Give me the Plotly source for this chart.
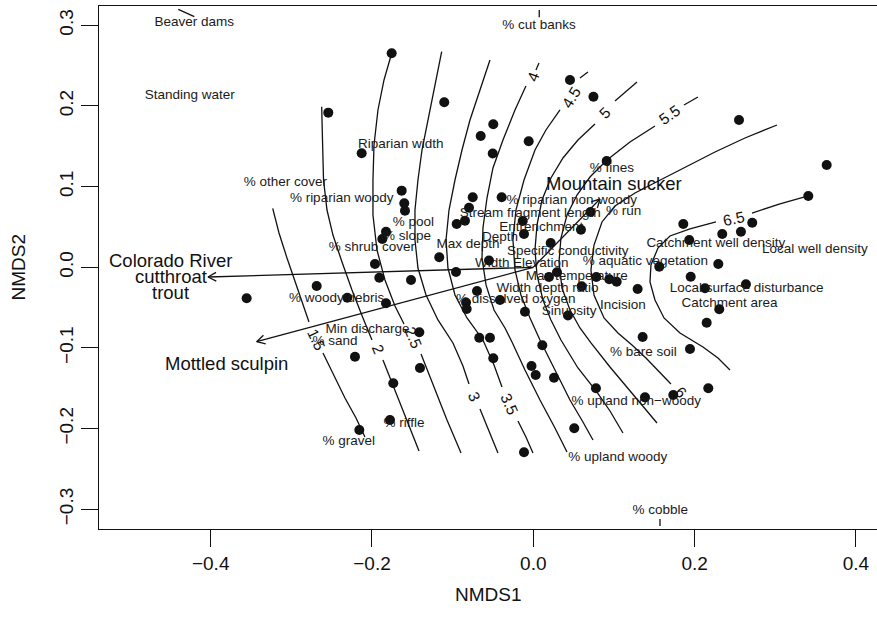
import math
import plotly.graph_objects as go

# ---------------- data ----------------
# Site scores
site_nmds1 = [-0.1756, -0.2542, -0.2128, -0.1104, -0.0496, -0.0652, -0.0503, -0.0057, 0.0455, 0.0746,
              0.0910, 0.2551, 0.3638, 0.3410, 0.2715, 0.2575, 0.2343, 0.1860, 0.1934, 0.2294,
              0.1562, 0.1952, 0.2129, 0.2637, 0.2306, 0.2150, 0.1294, 0.0781, 0.0942, 0.1034,
              0.1356, 0.1943, 0.2170, 0.1736, 0.1385, 0.0777, 0.0508, -0.0115, 0.0257, -0.0022,
              0.0030, 0.0112, -0.0496, -0.0670, -0.0537, -0.1405, -0.1736, -0.1777, -0.2157, -0.2211,
              -0.1413, -0.3554, -0.2686, -0.2306, -0.1963, -0.1909, -0.1516, -0.1826, -0.1826, -0.1872,
              -0.1632, -0.1600, -0.1591, -0.1166, -0.0958, -0.0950, -0.0847, -0.0797, -0.0751, -0.0392,
              -0.0131, -0.0115, 0.0216, 0.0591, 0.0709, -0.0549, 0.0294, 0.0195, 0.0600, -0.0698,
              -0.0413, -0.0834, -0.0826, -0.0103, 0.0430]
site_nmds2 = [0.2653, 0.1917, 0.1413, 0.2045, 0.1773, 0.1628, 0.1411, 0.1562, 0.2322, 0.2115,
              0.1318, 0.1826, 0.1268, 0.0884, 0.0553, 0.0441, 0.0413, 0.0537, 0.0338, 0.0041,
              0.0007, -0.0117, -0.0260, -0.0211, -0.0521, -0.0687, -0.0269, -0.0120, -0.0149, -0.0179,
              -0.0864, -0.1013, -0.1500, -0.1583, -0.1612, -0.1500, -0.1996, -0.2293, -0.1369, -0.1223,
              -0.1335, -0.0967, -0.1128, -0.0873, -0.0873, -0.1248, -0.1438, -0.1893, -0.2017, -0.1108,
              -0.0806, -0.0384, -0.0232, -0.0377, 0.0041, -0.0129, -0.0157, -0.0446, 0.0441, 0.0351,
              0.0950, 0.0793, 0.0702, 0.0124, -0.0058, 0.0537, 0.0578, 0.0739, 0.0868, 0.0868,
              0.0574, 0.0413, 0.0301, 0.0466, 0.0686, 0.0084, -0.0062, -0.0120, -0.0236, -0.0294,
              -0.0405, -0.0436, -0.0517, -0.0550, -0.0597]

# Fitted surface contours (None = gap left for the level label)
contour_levels = ["1.5", "2", "2.5", "3", "3.5", "4", "4.5", "5", "5.5", "6", "6.5"]
c15_x = [-0.3231, -0.3153, -0.3054, -0.2930, -0.2781, None, -0.2608, -0.2471, -0.2335, -0.2198, -0.2087]
c15_y = [0.0731, 0.0425, 0.0115, -0.0244, -0.0678, None, -0.1062, -0.1347, -0.1620, -0.1868, -0.2104]
c20_x = [-0.2624, -0.2614, -0.2601, -0.2558, -0.2484, -0.2372, -0.2248, -0.2112, -0.2000, None,
         -0.1864, -0.1715, -0.1554, -0.1417]
c20_y = [0.1991, 0.1578, 0.1082, 0.0710, 0.0400, 0.0066, -0.0281, -0.0628, -0.0901, None,
         -0.1149, -0.1521, -0.1918, -0.2277]
c25_x = [-0.1756, -0.1851, -0.1926, -0.1975, -0.1988, -0.1988, -0.1938, -0.1839, -0.1715, -0.1603, None,
         -0.1392, -0.1244, -0.1070, -0.0896]
c25_y = [0.2653, 0.2322, 0.1950, 0.1516, 0.1082, 0.0648, 0.0214, -0.0157, -0.0480, -0.0703, None,
         -0.1075, -0.1459, -0.1893, -0.2302]
c30_x = [-0.1136, -0.1219, -0.1306, -0.1380, -0.1430, -0.1467, -0.1467, -0.1430, -0.1330, -0.1182,
         -0.0996, -0.0872, -0.0797, None, -0.0661, -0.0549, -0.0438]
c30_y = [0.2673, 0.2260, 0.1863, 0.1454, 0.1082, 0.0710, 0.0338, -0.0009, -0.0343, -0.0653,
         -0.0938, -0.1223, -0.1447, None, -0.1757, -0.2029, -0.2302]
c35_x = [-0.0537, -0.0661, -0.0785, -0.0884, -0.0971, -0.1045, -0.1082, -0.1058, -0.0971, -0.0822,
         -0.0624, -0.0487, -0.0388, None, -0.0190, -0.0091, -0.0004]
c35_y = [0.2570, 0.2198, 0.1826, 0.1454, 0.1082, 0.0710, 0.0338, -0.0009, -0.0343, -0.0628,
         -0.0901, -0.1211, -0.1484, None, -0.1905, -0.2104, -0.2302]
c40_x = [0.0071, 0.0033, None, -0.0091, -0.0227, -0.0376, -0.0500, -0.0574, -0.0624, -0.0636, -0.0586,
         -0.0487, -0.0351, -0.0264, -0.0103, 0.0083, 0.0269, 0.0418]
c40_y = [0.2533, 0.2446, None, 0.2247, 0.1950, 0.1578, 0.1231, 0.0859, 0.0487, 0.0115, -0.0219,
         -0.0529, -0.0752, -0.0926, -0.1273, -0.1645, -0.1992, -0.2290]
c45_x = [0.0678, 0.0579, None, 0.0331, 0.0157, 0.0021, -0.0115, -0.0215, -0.0252, -0.0227, -0.0153,
         -0.0041, 0.0083, 0.0269, 0.0455, 0.0616, 0.0740]
c45_y = [0.2421, 0.2347, None, 0.1950, 0.1702, 0.1454, 0.1082, 0.0710, 0.0338, -0.0033, -0.0343,
         -0.0628, -0.0901, -0.1273, -0.1645, -0.1918, -0.2141]
c50_x = [0.1286, 0.1013, None, 0.0765, 0.0554, 0.0368, 0.0219, 0.0108, 0.0046, 0.0021, 0.0046,
         0.0120, 0.0219, 0.0343, 0.0554, 0.0790, 0.0951, 0.1112]
c50_y = [0.2297, 0.2062, None, 0.1776, 0.1578, 0.1355, 0.1107, 0.0834, 0.0524, 0.0214, -0.0095,
         -0.0405, -0.0653, -0.0901, -0.1248, -0.1546, -0.1781, -0.2054]
c55_x = [0.2042, 0.1869, None, 0.1509, 0.1199, 0.0914, 0.0703, 0.0542, 0.0418, 0.0343, 0.0319,
         0.0356, 0.0455, 0.0579, 0.0715, 0.0951, 0.1224, 0.1534]
c55_y = [0.2111, 0.2012, None, 0.1752, 0.1553, 0.1330, 0.1119, 0.0896, 0.0648, 0.0363, 0.0066,
         -0.0257, -0.0529, -0.0752, -0.0938, -0.1236, -0.1558, -0.1930]
c60_x = [0.3022, 0.2625, 0.2253, 0.1918, 0.1571, 0.1261, 0.1013, 0.0852, 0.0753, 0.0715, 0.0753,
         0.0877, 0.1050, 0.1224, 0.1397, 0.1571, 0.1707]
c60_y = [0.1764, 0.1603, 0.1429, 0.1256, 0.1082, 0.0921, 0.0760, 0.0562, 0.0276, -0.0033, -0.0343,
         -0.0628, -0.0814, -0.0963, -0.1124, -0.1298, -0.1447]
c65_x = [0.3410, 0.3059, 0.2712, None, 0.2265, 0.1943, 0.1695, 0.1546, 0.1459, 0.1447, 0.1509,
         0.1621, 0.1819, 0.2104, 0.2290, 0.2439]
c65_y = [0.0884, 0.0785, 0.0673, None, 0.0562, 0.0475, 0.0388, 0.0239, 0.0029, -0.0182, -0.0405,
         -0.0628, -0.0814, -0.0988, -0.1124, -0.1273]
contour_label_x = [-0.2694, -0.1926, -0.1492, -0.0723, -0.0289, -0.0004, 0.0467, 0.0889, 0.1695, 0.1831, 0.2489]
contour_label_y = [-0.0901, -0.1025, -0.0876, -0.1608, -0.1695, 0.2371, 0.2111, 0.1925, 0.1888, -0.1558, 0.0599]

# Environmental variables (label positions)
env_names = ["Beaver dams", "Standing water", "% cut banks", "Riparian width", "% fines",
             "% other cover", "% riparian woody", "% riparian non-woody", "% pool",
             "Stream fragment length", "% run", "% slope", "Entrenchment", "% shrub cover",
             "Max depth", "Depth", "Specific conductivity", "Catchment well density",
             "Local well density", "% aquatic vegetation", "Width", "Elevation",
             "Max temperature", "Width depth ratio", "% dissolved oxygen", "Sinuosity",
             "Incision", "Local surface disturbance", "Catchment area", "% woody debris",
             "Min discharge", "% sand", "% riffle", "% gravel", "% bare soil",
             "% upland non\u2212woody", "% upland woody", "% cobble"]
env_nmds1 = [-0.4203, -0.4260, 0.0071, -0.1644, 0.0976, -0.3073, -0.2376, 0.0476, -0.1488,
             -0.0037, 0.1121, -0.1566, 0.0099, -0.2000, -0.0810, -0.0413, 0.0427, 0.2263,
             0.3493, 0.1391, -0.0508, 0.0093, 0.0538, 0.0176, -0.0217, 0.0445, 0.1112,
             0.2646, 0.2433, -0.2438, -0.2056, -0.2459, -0.1603, -0.2288, 0.1364, 0.1277,
             0.1047, 0.1574]
env_nmds2 = [0.3032, 0.2127, 0.2991, 0.1525, 0.1227, 0.1049, 0.0855, 0.0826, 0.0558,
             0.0661, 0.0689, 0.0379, 0.0496, 0.0248, 0.0276, 0.0372, 0.0193, 0.0289,
             0.0223, 0.0076, 0.0041, 0.0041, -0.0117, -0.0260, -0.0405, -0.0550, -0.0480,
             -0.0260, -0.0446, -0.0384, -0.0777, -0.0922, -0.1934, -0.2157, -0.1059, -0.1664,
             -0.2358, -0.3017]
# short marks attached to three labels
mark_x = [[-0.4402, -0.4203], [0.0074, 0.0074], [0.1571, 0.1571]]
mark_y = [[0.3198, 0.3107], [0.3190, 0.3099], [-0.3120, -0.3207]]

# Fish species vectors
species_names = ["Colorado River\ncutthroat\ntrout", "Mottled sculpin", "Mountain sucker"]
species_nmds1 = [-0.4034, -0.3430, 0.0827]
species_nmds2 = [-0.0120, -0.0922, 0.0847]
species_label_nmds1 = [-0.4496, -0.3802, 0.1001]
species_label_nmds2 = [-0.0117, -0.1190, 0.1033]

x_ticks = [-0.4, -0.2, 0.0, 0.2, 0.4]
y_ticks = [-0.3, -0.2, -0.1, 0.0, 0.1, 0.2, 0.3]

# ---------------- figure ----------------
FONT = "Liberation Sans, Arial, Helvetica, sans-serif"
INK = "#111111"
fig = go.Figure()

contours = [(c15_x, c15_y), (c20_x, c20_y), (c25_x, c25_y), (c30_x, c30_y), (c35_x, c35_y),
            (c40_x, c40_y), (c45_x, c45_y), (c50_x, c50_y), (c55_x, c55_y), (c60_x, c60_y),
            (c65_x, c65_y)]
for cx, cy in contours:
    fig.add_trace(go.Scatter(x=cx, y=cy, mode="lines", connectgaps=False,
                             line=dict(color=INK, width=1.3), hoverinfo="skip", showlegend=False))

for mx, my in zip(mark_x, mark_y):
    fig.add_trace(go.Scatter(x=mx, y=my, mode="lines", line=dict(color=INK, width=1.3),
                             hoverinfo="skip", showlegend=False))

# species arrows (origin -> tip) with open heads
head_len = 0.0115
head_ang = math.radians(28)
for tx, ty in zip(species_nmds1, species_nmds2):
    L = math.hypot(tx, ty)
    ux, uy = tx / L, ty / L
    arms_x, arms_y = [], []
    for s in (1, -1):
        ca, sa = math.cos(s * head_ang), math.sin(s * head_ang)
        rx, ry = ux * ca - uy * sa, ux * sa + uy * ca
        arms_x += [tx - head_len * rx, tx, None]
        arms_y += [ty - head_len * ry, ty, None]
    fig.add_trace(go.Scatter(x=[0, tx, None] + arms_x, y=[0, ty, None] + arms_y, mode="lines",
                             line=dict(color=INK, width=1.3), hoverinfo="skip", showlegend=False))

fig.add_trace(go.Scatter(x=site_nmds1, y=site_nmds2, mode="markers",
                         marker=dict(size=10, color=INK), hoverinfo="skip", showlegend=False))

fig.add_trace(go.Scatter(x=env_nmds1, y=env_nmds2, mode="text", text=env_names,
                         textposition="middle center",
                         textfont=dict(family=FONT, size=13.5, color="#1a1a1a"),
                         hoverinfo="skip", showlegend=False))

annotations = []
contour_angles = [64, 68, 67, 67, 66, -69, -58, -44, -35, 46, -12]
for lab, lx, ly, ang in zip(contour_levels, contour_label_x, contour_label_y, contour_angles):
    annotations.append(dict(x=lx, y=ly, xref="x", yref="y", text=lab, showarrow=False,
                            textangle=ang, xanchor="center", yanchor="middle",
                            font=dict(family=FONT, size=15.5, color=INK)))

line_gap = 15.8
for name, lx, ly in zip(species_names, species_label_nmds1, species_label_nmds2):
    parts = name.split("\n")
    n = len(parts)
    for i, p in enumerate(parts):
        annotations.append(dict(x=lx, y=ly, xref="x", yref="y", text=p, showarrow=False,
                                xanchor="center", yanchor="middle",
                                yshift=((n - 1) / 2 - i) * line_gap,
                                font=dict(family=FONT, size=18.5, color=INK)))

annotations.append(dict(x=0.5, y=0, xref="paper", yref="paper", text="NMDS1", showarrow=False,
                        xanchor="center", yanchor="middle", yshift=-65,
                        font=dict(family=FONT, size=19, color=INK)))
annotations.append(dict(x=0, y=0.5, xref="paper", yref="paper", text="NMDS2", showarrow=False,
                        xanchor="center", yanchor="middle", xshift=-81, textangle=-90,
                        font=dict(family=FONT, size=19, color=INK)))

axis_common = dict(showgrid=False, zeroline=False, showline=True, linecolor=INK, linewidth=1.2,
                   ticks="outside", ticklen=17, tickwidth=1.2, tickcolor=INK, tickformat=".1f",
                   tickfont=dict(family=FONT, size=19, color=INK), automargin=False)

fig.update_layout(
    width=877, height=624,
    margin=dict(l=99, r=0, t=6, b=95),
    paper_bgcolor="white", plot_bgcolor="white",
    xaxis=dict(range=[-0.5385, 0.4262], tickvals=x_ticks, mirror=True, **axis_common),
    yaxis=dict(range=[-0.3244, 0.3239], tickvals=y_ticks, mirror=False, tickangle=-90, **axis_common),
    annotations=annotations,
    showlegend=False,
)

fig.write_html("out.html", config={"displayModeBar": False},
               post_script="document.body.style.margin='0px';document.body.style.overflow='hidden';")
